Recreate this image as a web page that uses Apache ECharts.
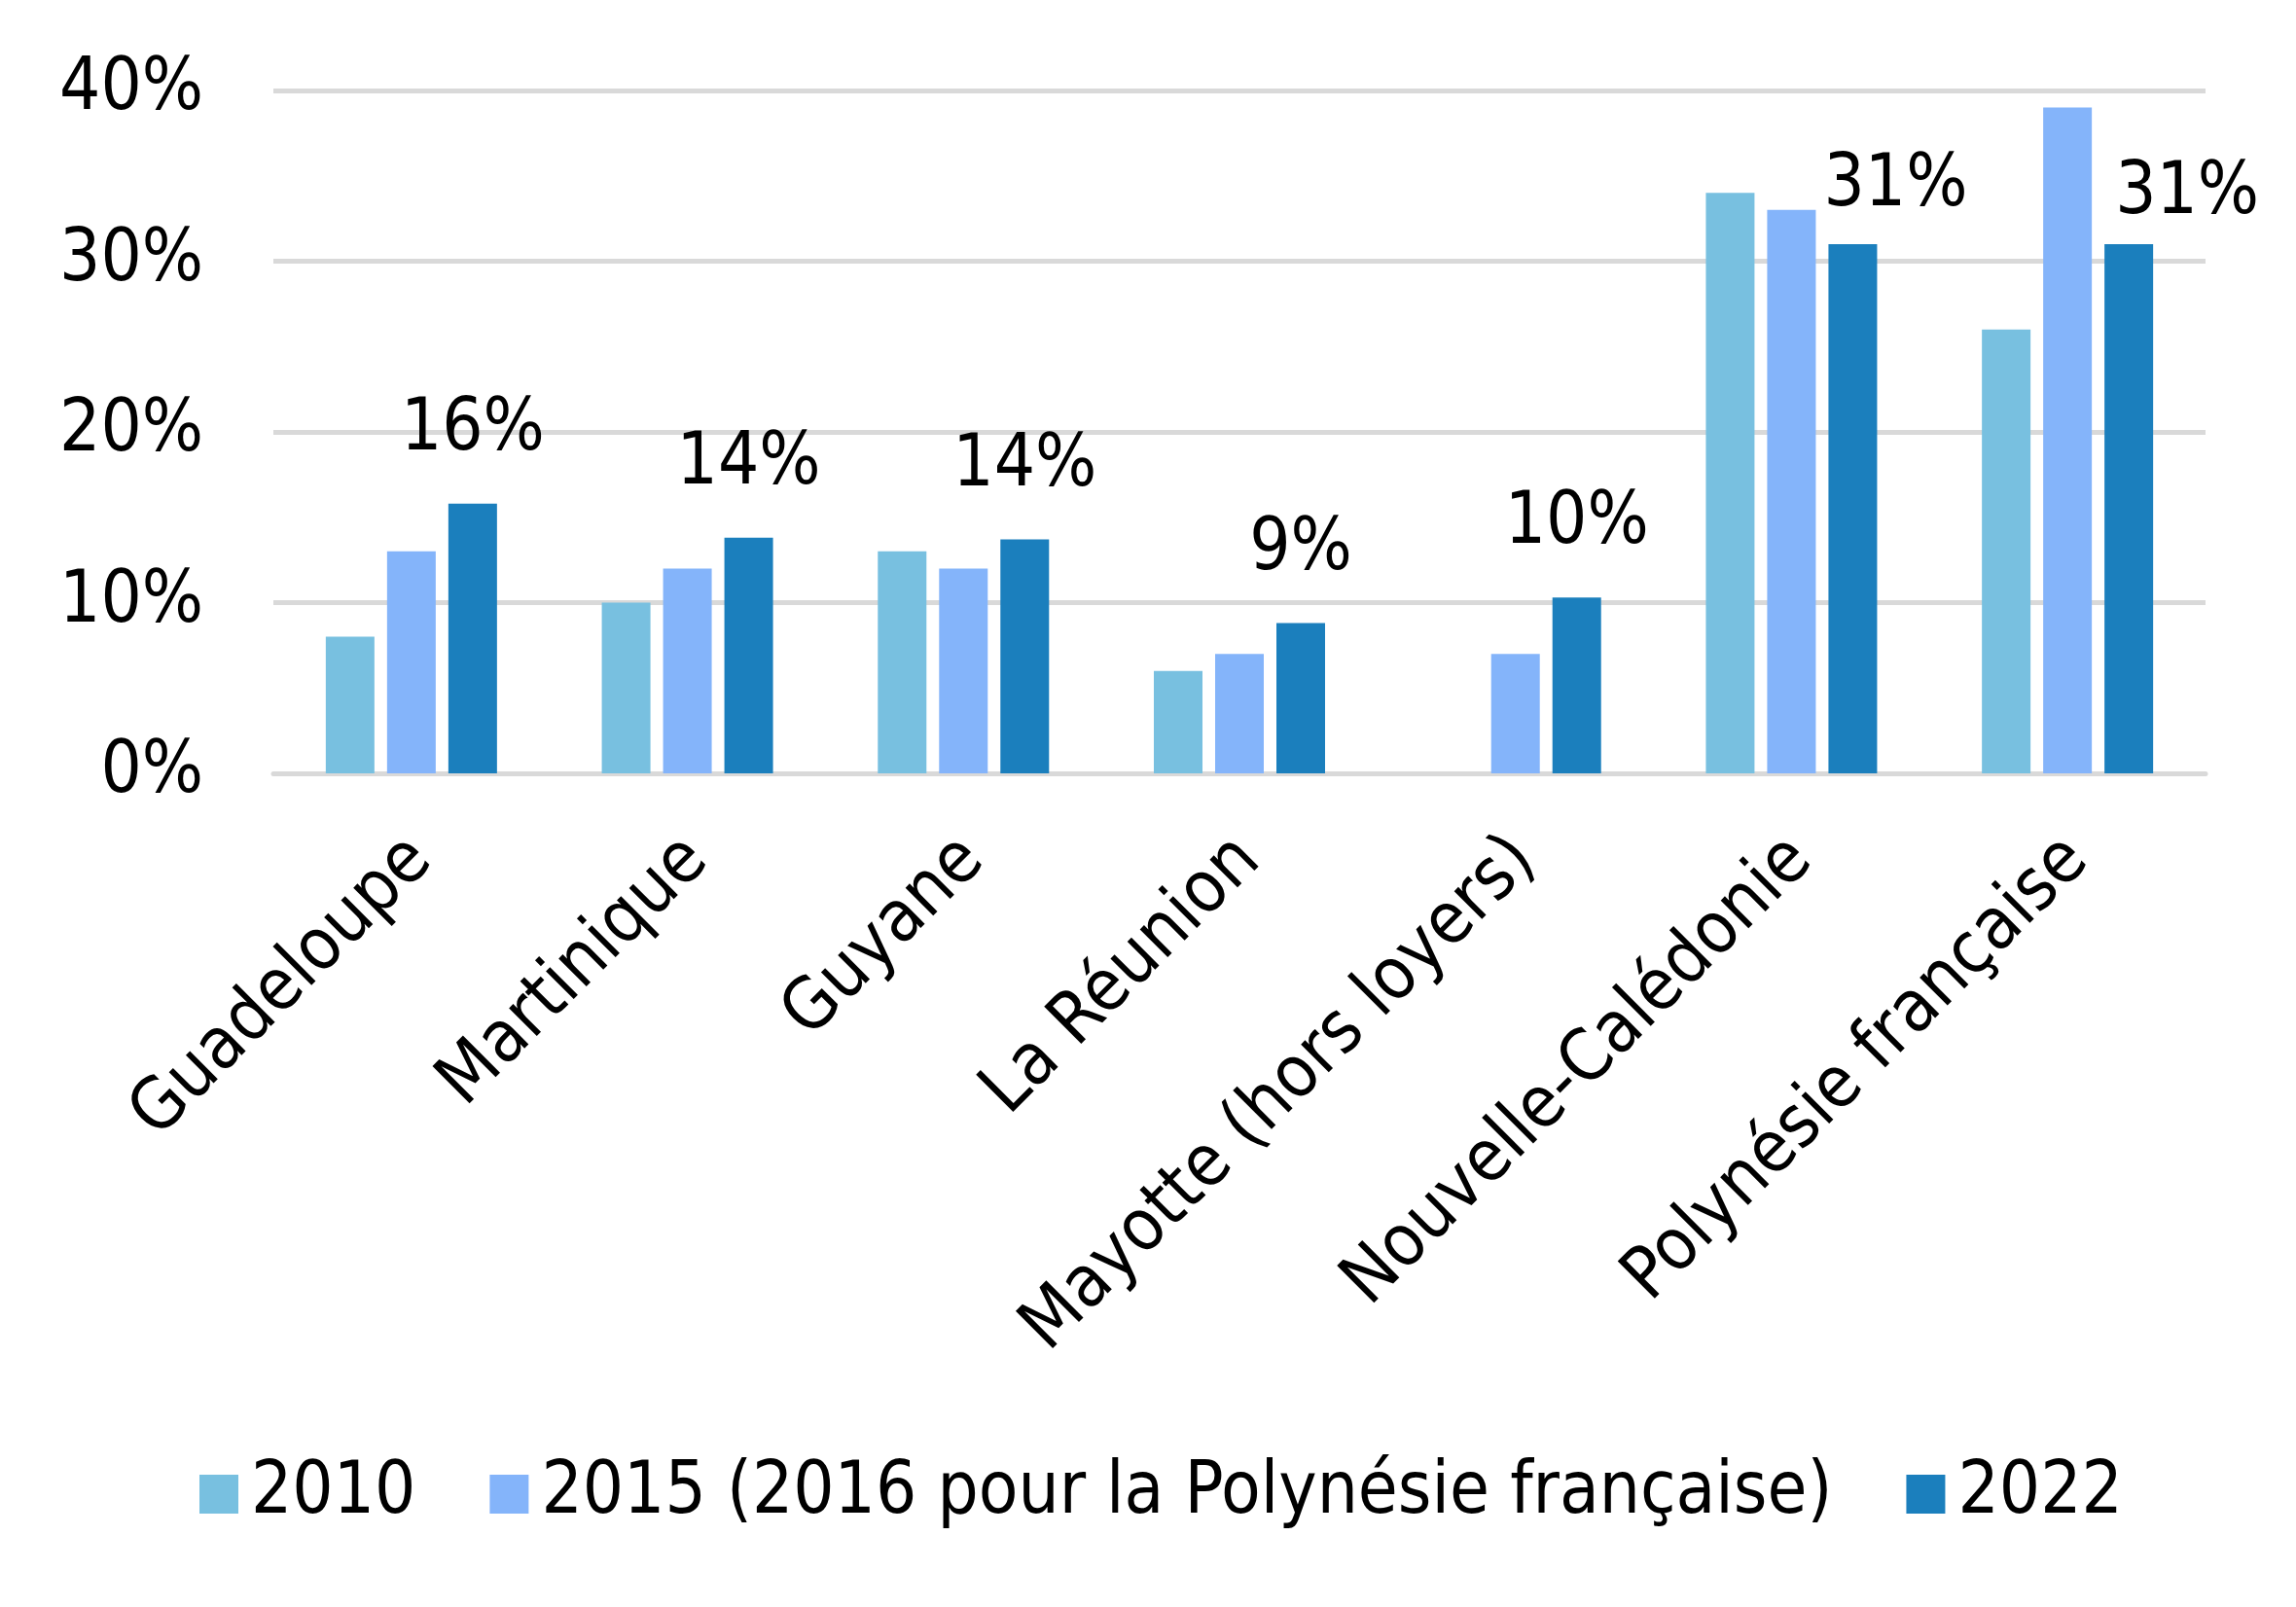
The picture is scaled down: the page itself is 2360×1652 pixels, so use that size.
<!DOCTYPE html>
<html>
<head>
<meta charset="utf-8">
<script src="https://cdn.jsdelivr.net/npm/echarts@6/dist/echarts.min.js"></script>
<style>
html,body{margin:0;padding:0;background:#fff;}
#chart{width:2360px;height:1652px;}
</style>
</head>
<body>
<div id="chart"></div>
<script>
const categories = ['Guadeloupe','Martinique','Guyane','La Réunion','Mayotte (hors loyers)','Nouvelle-Calédonie','Polynésie française'];
const seriesNames = ['2010','2015 (2016 pour la Polynésie française)','2022'];
const values2010 = [8, 10, 13, 6, null, 34, 26];
const values2015 = [13, 12, 12, 7, 7, 33, 39];
const values2022 = [15.8, 13.8, 13.7, 8.8, 10.3, 31, 31];
const labels2022 = ['16%','14%','14%','9%','10%','31%','31%'];
const yTicks = [0, 10, 20, 30, 40];

const FONT = "'DejaVu Sans Condensed', 'DejaVu Sans', sans-serif";
const FS = 74;
const colors = ['#78C0E0', '#84B4FA', '#1B7FBD'];
// manual label nudges (as in the original chart)
const labelNudge = [[0,0],[0,0],[0,0],[0,0],[0,0],[44,16],[60,24]];

const chart = echarts.init(document.getElementById('chart'), null, {renderer:'canvas'});
chart.setOption({
  animation: false,
  backgroundColor: '#ffffff',
  color: colors,
  textStyle: {fontFamily: FONT},
  grid: {left: 281, right: 93, top: 93, bottom: 857, containLabel: false},
  legend: {
    bottom: 74,
    left: 200,
    itemWidth: 40,
    itemHeight: 40,
    itemGap: 76,
    icon: 'rect',
    textStyle: {fontFamily: FONT, fontSize: FS, color: '#000', padding: [0,0,0,8]},
    data: seriesNames
  },
  xAxis: {
    type: 'category',
    data: categories,
    axisLine: {show: true, lineStyle: {color: '#D9D9D9', width: 5}},
    axisTick: {show: false},
    axisLabel: {rotate: 45, interval: 0, margin: 88, padding: [0,-14,0,0], fontFamily: FONT, fontSize: FS, color: '#000'}
  },
  yAxis: {
    type: 'value',
    min: yTicks[0],
    max: yTicks[yTicks.length-1],
    interval: 10,
    axisLine: {show: false},
    axisTick: {show: false},
    splitLine: {lineStyle: {color: '#D9D9D9', width: 5}},
    axisLabel: {margin: 72, fontFamily: FONT, fontSize: FS, color: '#000', formatter: v => v + '%'}
  },
  series: [
    {name: seriesNames[0], type: 'bar', data: values2010, barWidth: 50, barGap: '26%'},
    {name: seriesNames[1], type: 'bar', data: values2015, barWidth: 50, barGap: '26%'},
    {name: seriesNames[2], type: 'bar', barWidth: 50, barGap: '26%',
     data: values2022.map((v, i) => ({
       value: v,
       label: {show: true, position: 'top', distance: 38, offset: labelNudge[i],
               formatter: labels2022[i], fontFamily: FONT, fontSize: FS, color: '#000'}
     }))}
  ]
});
</script>
</body>
</html>
